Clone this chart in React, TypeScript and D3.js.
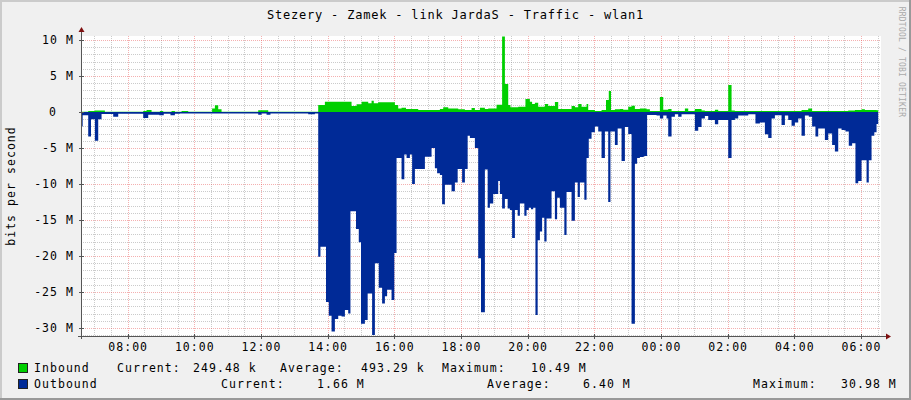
import React from "react";
import * as d3 from "d3";

const W = 911;
const H = 400;

const title = "Stezery - Zamek - link JardaS - Traffic - wlan1";
const yAxisTitle = "bits per second";
const watermark = "RRDTOOL / TOBI OETIKER";

const startTime = "06:36";
const dataEnd = "06:31";

// [time, Mbit/s]
const inbound: [string, number][] = [
  ["06:36", 0.05], ["06:49", 0.14], ["07:01", 0.2], ["07:19", 0.05], ["08:28", 0.14], ["08:34", 0.28],
  ["08:43", 0.05], ["08:58", 0.14], ["09:04", 0.05], ["09:19", 0.14], ["09:25", 0.05], ["09:37", 0.14],
  ["09:49", 0.05], ["10:32", 0.5], ["10:37", 0.93], ["10:43", 0.37], ["10:49", 0.05], ["11:55", 0.23],
  ["12:13", 0.05], ["13:43", 0.97], ["13:55", 1.43], ["14:43", 0.83], ["14:52", 1.06], ["15:01", 1.43],
  ["15:13", 1.2], ["15:19", 1.57], ["15:23", 1.2], ["15:31", 1.34], ["16:01", 0.97], ["16:07", 0.5],
  ["16:13", 0.6], ["16:21", 0.42], ["16:43", 0.28], ["17:22", 0.42], ["17:28", 0.65], ["17:37", 0.5],
  ["17:55", 0.37], ["18:07", 0.28], ["18:19", 0.55], ["18:25", 0.28], ["18:34", 0.6], ["18:43", 0.4],
  ["18:49", 0.5], ["19:04", 1.0], ["19:14", 10.49], ["19:19", 3.9], ["19:25", 0.97], ["19:29", 0.65],
  ["19:43", 0.74], ["19:56", 1.8], ["20:04", 1.43], ["20:08", 1.1], ["20:13", 1.3], ["20:19", 0.74],
  ["20:31", 1.1], ["20:37", 0.83], ["20:49", 1.4], ["20:55", 0.42], ["21:19", 0.83], ["21:25", 0.65],
  ["21:31", 1.1], ["21:37", 0.74], ["21:46", 1.1], ["21:49", 0.28], ["22:01", 0.14], ["22:13", 0.28],
  ["22:21", 1.67], ["22:26", 2.9], ["22:30", 0.28], ["22:37", 0.37], ["22:46", 0.42], ["22:52", 0.3],
  ["23:01", 0.74], ["23:07", 0.88], ["23:13", 0.42], ["23:22", 0.5], ["23:34", 0.37], ["23:40", 0.14],
  ["23:58", 2.1], ["00:04", 0.3], ["00:13", 0.42], ["00:19", 0.14], ["00:43", 0.5], ["00:49", 0.14],
  ["01:01", 0.42], ["01:13", 0.2], ["01:19", 0.14], ["01:37", 0.3], ["01:43", 0.14], ["02:01", 3.75],
  ["02:07", 0.2], ["02:13", 0.14], ["04:13", 0.28], ["04:25", 0.5], ["04:32", 0.14], ["05:37", 0.2],
  ["05:49", 0.28], ["06:01", 0.37], ["06:07", 0.28], ["06:28", 0.25],
];

const outbound: [string, number][] = [
  ["06:36", 2.0], ["06:39", 0.46], ["06:49", 3.4], ["06:54", 1.0], ["07:01", 4.0], ["07:07", 1.0],
  ["07:13", 0.28], ["07:34", 0.65], ["07:43", 0.25], ["08:28", 0.83], ["08:37", 0.37], ["08:57", 0.46],
  ["09:05", 0.25], ["09:17", 0.46], ["09:25", 0.25], ["09:34", 0.2], ["11:55", 0.37], ["12:01", 0.2],
  ["12:10", 0.37], ["12:17", 0.2], ["13:25", 0.3], ["13:37", 0.2], ["13:43", 20.1], ["13:47", 18.7],
  ["13:57", 26.4], ["14:02", 28.3], ["14:07", 30.5], ["14:13", 28.75], ["14:19", 28.3], ["14:25", 28.4],
  ["14:31", 27.5], ["14:37", 28.0], ["14:41", 13.8], ["14:51", 16.25], ["14:56", 18.1], ["15:00", 29.4],
  ["15:07", 28.9], ["15:12", 25.2], ["15:20", 30.98], ["15:25", 21.0], ["15:32", 24.4], ["15:38", 26.6],
  ["15:43", 25.6], ["15:47", 24.7], ["15:55", 26.1], ["16:00", 19.6], ["16:04", 6.4], ["16:13", 9.35],
  ["16:18", 5.9], ["16:22", 6.4], ["16:28", 5.9], ["16:32", 10.0], ["16:37", 7.9], ["16:55", 6.2],
  ["17:07", 5.0], ["17:13", 7.8], ["17:17", 8.5], ["17:22", 8.75], ["17:26", 12.8], ["17:31", 10.1],
  ["17:43", 11.0], ["17:49", 9.8], ["17:54", 7.9], ["18:02", 9.8], ["18:07", 7.9], ["18:12", 3.3],
  ["18:16", 3.6], ["18:25", 5.0], ["18:31", 20.3], ["18:36", 27.8], ["18:43", 8.0], ["18:48", 13.3],
  ["18:52", 12.7], ["18:58", 11.4], ["19:07", 9.6], ["19:10", 11.4], ["19:14", 13.4], ["19:19", 12.1],
  ["19:24", 13.4], ["19:28", 13.6], ["19:32", 17.5], ["19:37", 13.6], ["19:42", 14.4], ["19:46", 12.7],
  ["19:54", 14.4], ["19:58", 13.6], ["20:02", 13.3], ["20:06", 13.5], ["20:10", 13.3], ["20:14", 28.2],
  ["20:18", 17.8], ["20:22", 16.6], ["20:26", 14.7], ["20:30", 18.0], ["20:34", 14.8], ["20:43", 11.0],
  ["20:49", 14.9], ["20:53", 11.9], ["20:58", 13.3], ["21:06", 17.1], ["21:10", 11.1], ["21:19", 15.1],
  ["21:25", 9.8], ["21:30", 11.8], ["21:34", 9.8], ["21:42", 12.2], ["21:46", 6.4], ["21:50", 3.7],
  ["21:55", 2.8], ["22:01", 2.0], ["22:07", 2.7], ["22:13", 6.4], ["22:19", 2.7], ["22:25", 12.5],
  ["22:29", 2.7], ["22:37", 4.6], ["22:42", 2.3], ["22:49", 6.8], ["22:55", 2.1], ["23:01", 3.05],
  ["23:07", 29.4], ["23:13", 7.2], ["23:17", 6.4], ["23:22", 6.25], ["23:29", 6.1], ["23:35", 0.4],
  ["23:52", 0.5], ["23:58", 0.9], ["00:04", 0.5], ["00:10", 0.9], ["00:13", 3.4], ["00:19", 0.65],
  ["00:25", 0.3], ["00:31", 0.65], ["00:37", 0.3], ["01:01", 2.6], ["01:07", 2.1], ["01:13", 0.9],
  ["01:19", 0.55], ["01:25", 1.1], ["01:37", 1.7], ["01:43", 1.1], ["02:01", 6.4], ["02:07", 1.1],
  ["02:13", 0.9], ["02:19", 0.5], ["02:37", 0.3], ["02:50", 1.6], ["02:58", 1.45], ["03:07", 3.1],
  ["03:13", 3.6], ["03:19", 0.9], ["03:25", 0.45], ["03:37", 1.8], ["03:43", 0.5], ["03:49", 1.1],
  ["03:55", 1.9], ["04:01", 1.45], ["04:07", 0.9], ["04:13", 3.3], ["04:19", 0.5], ["04:26", 0.65],
  ["04:32", 2.0], ["04:38", 3.4], ["04:43", 2.3], ["04:55", 3.9], ["05:01", 3.0], ["05:08", 4.6],
  ["05:13", 5.5], ["05:19", 2.3], ["05:25", 2.5], ["05:32", 2.7], ["05:38", 4.7], ["05:44", 4.35],
  ["05:50", 9.9], ["05:55", 9.6], ["06:01", 6.7], ["06:10", 9.8], ["06:14", 6.7], ["06:19", 3.3],
  ["06:24", 2.8], ["06:28", 1.66],
];

const xTickLabels = ["08:00", "10:00", "12:00", "14:00", "16:00", "18:00", "20:00", "22:00", "00:00", "02:00", "04:00", "06:00"];
const yTickValues = [10, 5, 0, -5, -10, -15, -20, -25, -30];

const legendNames = ["Inbound", "Outbound"];
const legendColors = ["#00CF00", "#002A97"];
const inboundStats = ["249.48 k", "493.29 k", "10.49 M"];
const outboundStats = ["1.66 M", "6.40 M", "30.98 M"];
const statLabels = ["Current:", "Average:", "Maximum:"];

const FONT = "'DejaVu Sans Mono', monospace";

function toMin(s: string): number {
  const [h, m] = s.split(":").map(Number);
  const base = 6 * 60 + 36;
  let v = h * 60 + m;
  if (v < base) v += 1440;
  return v;
}

export default function App() {
  const left = 81, right = 881, top = 36, bottom = 336;
  const t0 = toMin(startTime);
  const x = d3.scaleLinear().domain([t0, t0 + 1440]).range([left, right]);
  const y = d3.scaleLinear().domain([-31.111, 10.556]).range([bottom, top]);

  const endT = toMin(dataEnd);
  const mk = (arr: [string, number][], sign: number) => {
    const pts = arr.map(([t, v]) => [toMin(t), sign * v] as [number, number]);
    pts.push([endT, pts[pts.length - 1][1]]);
    return d3.area<[number, number]>()
      .x((d) => x(d[0]))
      .y0(y(0))
      .y1((d) => y(d[1]))
      .curve(d3.curveStepAfter)(pts) as string;
  };

  const minorV: number[] = [];
  const majorV: number[] = [];
  for (let t = 7 * 60; t < t0 + 1440; t += 30) {
    if (t % 120 === 0) majorV.push(t); else minorV.push(t);
  }
  const minorH: number[] = [];
  const majorH: number[] = [];
  for (let v = -31; v <= 10; v++) {
    if (v % 5 === 0) majorH.push(v); else minorH.push(v);
  }

  const txt = { fontFamily: FONT, fontSize: 11.5, letterSpacing: 1.05, fill: "#000" } as const;

  const leg1x = [117, 280, 442];
  const leg1vx = [193, 361, 531];
  const leg2x = [221, 487, 753];
  const leg2vx = [317, 583, 841];

  return (
    <svg width={W} height={H} style={{ position: "absolute", left: 0, top: 0 }}>
      <rect x={0} y={0} width={W} height={H} fill="#F0F0F0" />
      <line x1={0} y1={0.5} x2={W} y2={0.5} stroke="#CBCBCB" />
      <line x1={0} y1={1.5} x2={W} y2={1.5} stroke="#CBCBCB" />
      <line x1={0.5} y1={0} x2={0.5} y2={H} stroke="#CBCBCB" />
      <line x1={1.5} y1={0} x2={1.5} y2={H} stroke="#CBCBCB" />
      <line x1={0} y1={H - 0.5} x2={W} y2={H - 0.5} stroke="#999" />
      <line x1={0} y1={H - 1.5} x2={W} y2={H - 1.5} stroke="#999" />
      <line x1={W - 0.5} y1={0} x2={W - 0.5} y2={H} stroke="#999" />
      <line x1={W - 1.5} y1={0} x2={W - 1.5} y2={H} stroke="#999" />

      <rect x={left} y={top} width={right - left} height={bottom - top} fill="#FFFFFF" />

      {minorV.map((t) => (
        <line key={"mv" + t} x1={Math.round(x(t)) + 0.5} x2={Math.round(x(t)) + 0.5} y1={top} y2={bottom}
          stroke="rgba(140,140,140,0.45)" strokeDasharray="1,1" />
      ))}
      {minorH.map((v) => (
        <line key={"mh" + v} x1={left} x2={right} y1={Math.round(y(v)) + 0.5} y2={Math.round(y(v)) + 0.5}
          stroke="rgba(140,140,140,0.45)" strokeDasharray="1,1" />
      ))}
      {majorV.map((t) => (
        <line key={"Mv" + t} x1={Math.round(x(t)) + 0.5} x2={Math.round(x(t)) + 0.5} y1={top} y2={bottom}
          stroke="rgba(230,80,80,0.45)" strokeDasharray="1,1" />
      ))}
      {majorH.map((v) => (
        <line key={"Mh" + v} x1={left} x2={right} y1={Math.round(y(v)) + 0.5} y2={Math.round(y(v)) + 0.5}
          stroke="rgba(230,80,80,0.45)" strokeDasharray="1,1" />
      ))}

      <path d={mk(inbound, 1)} fill={legendColors[0]} />
      <path d={mk(outbound, -1)} fill={legendColors[1]} />

      {/* axes */}
      <line x1={left - 3} x2={right + 5} y1={bottom + 0.5} y2={bottom + 0.5} stroke="#555" />
      <line x1={left + 0.5} x2={left + 0.5} y1={bottom + 3} y2={top - 5} stroke="#555" />
      <path d={`M${right + 5},${bottom - 2.5} L${right + 10},${bottom + 0.5} L${right + 5},${bottom + 3.5} Z`} fill="#7F1010" />
      <path d={`M${left - 2.5},${top - 4} L${left + 0.5},${top - 9} L${left + 3.5},${top - 4} Z`} fill="#7F1010" />

      {yTickValues.map((v) => (
        <g key={"yt" + v}>
          <line x1={left - 2} x2={left + 3} y1={Math.round(y(v)) + 0.5} y2={Math.round(y(v)) + 0.5} stroke="#555" />
          <text x={v === 0 ? 57 : 74} y={y(v) + 4} textAnchor="end" {...txt}>
            {v === 0 ? "0" : `${v} M`}
          </text>
        </g>
      ))}
      {xTickLabels.map((s) => (
        <g key={"xt" + s}>
          <line x1={Math.round(x(toMin(s))) + 0.5} x2={Math.round(x(toMin(s))) + 0.5} y1={bottom - 2} y2={bottom + 3} stroke="#555" />
          <text x={x(toMin(s)) + 0.5} y={351} textAnchor="middle" {...txt}>{s}</text>
        </g>
      ))}

      <text x={W / 2} y={19} textAnchor="middle" {...txt} fontSize={12} letterSpacing={0.8}>{title}</text>
      <text transform="translate(15,186) rotate(-90)" textAnchor="middle" {...txt}>{yAxisTitle}</text>
      <text transform="translate(899,62) rotate(90)" textAnchor="middle" fontFamily={FONT} fontSize={8}
        letterSpacing={0.2} fill="#AAAAAA">{watermark}</text>

      {/* legend */}
      {legendNames.map((n, i) => (
        <g key={n}>
          <rect x={18.5} y={363.5 + i * 16} width={9} height={9} fill={legendColors[i]} stroke="#222" />
          <text x={34} y={372 + i * 16} {...txt}>{n}</text>
        </g>
      ))}
      {statLabels.map((s, i) => (
        <g key={"s" + i}>
          <text x={leg1x[i]} y={372} {...txt}>{s}</text>
          <text x={leg1vx[i]} y={372} {...txt}>{inboundStats[i]}</text>
          <text x={leg2x[i]} y={388} {...txt}>{s}</text>
          <text x={leg2vx[i]} y={388} {...txt}>{outboundStats[i]}</text>
        </g>
      ))}
    </svg>
  );
}
